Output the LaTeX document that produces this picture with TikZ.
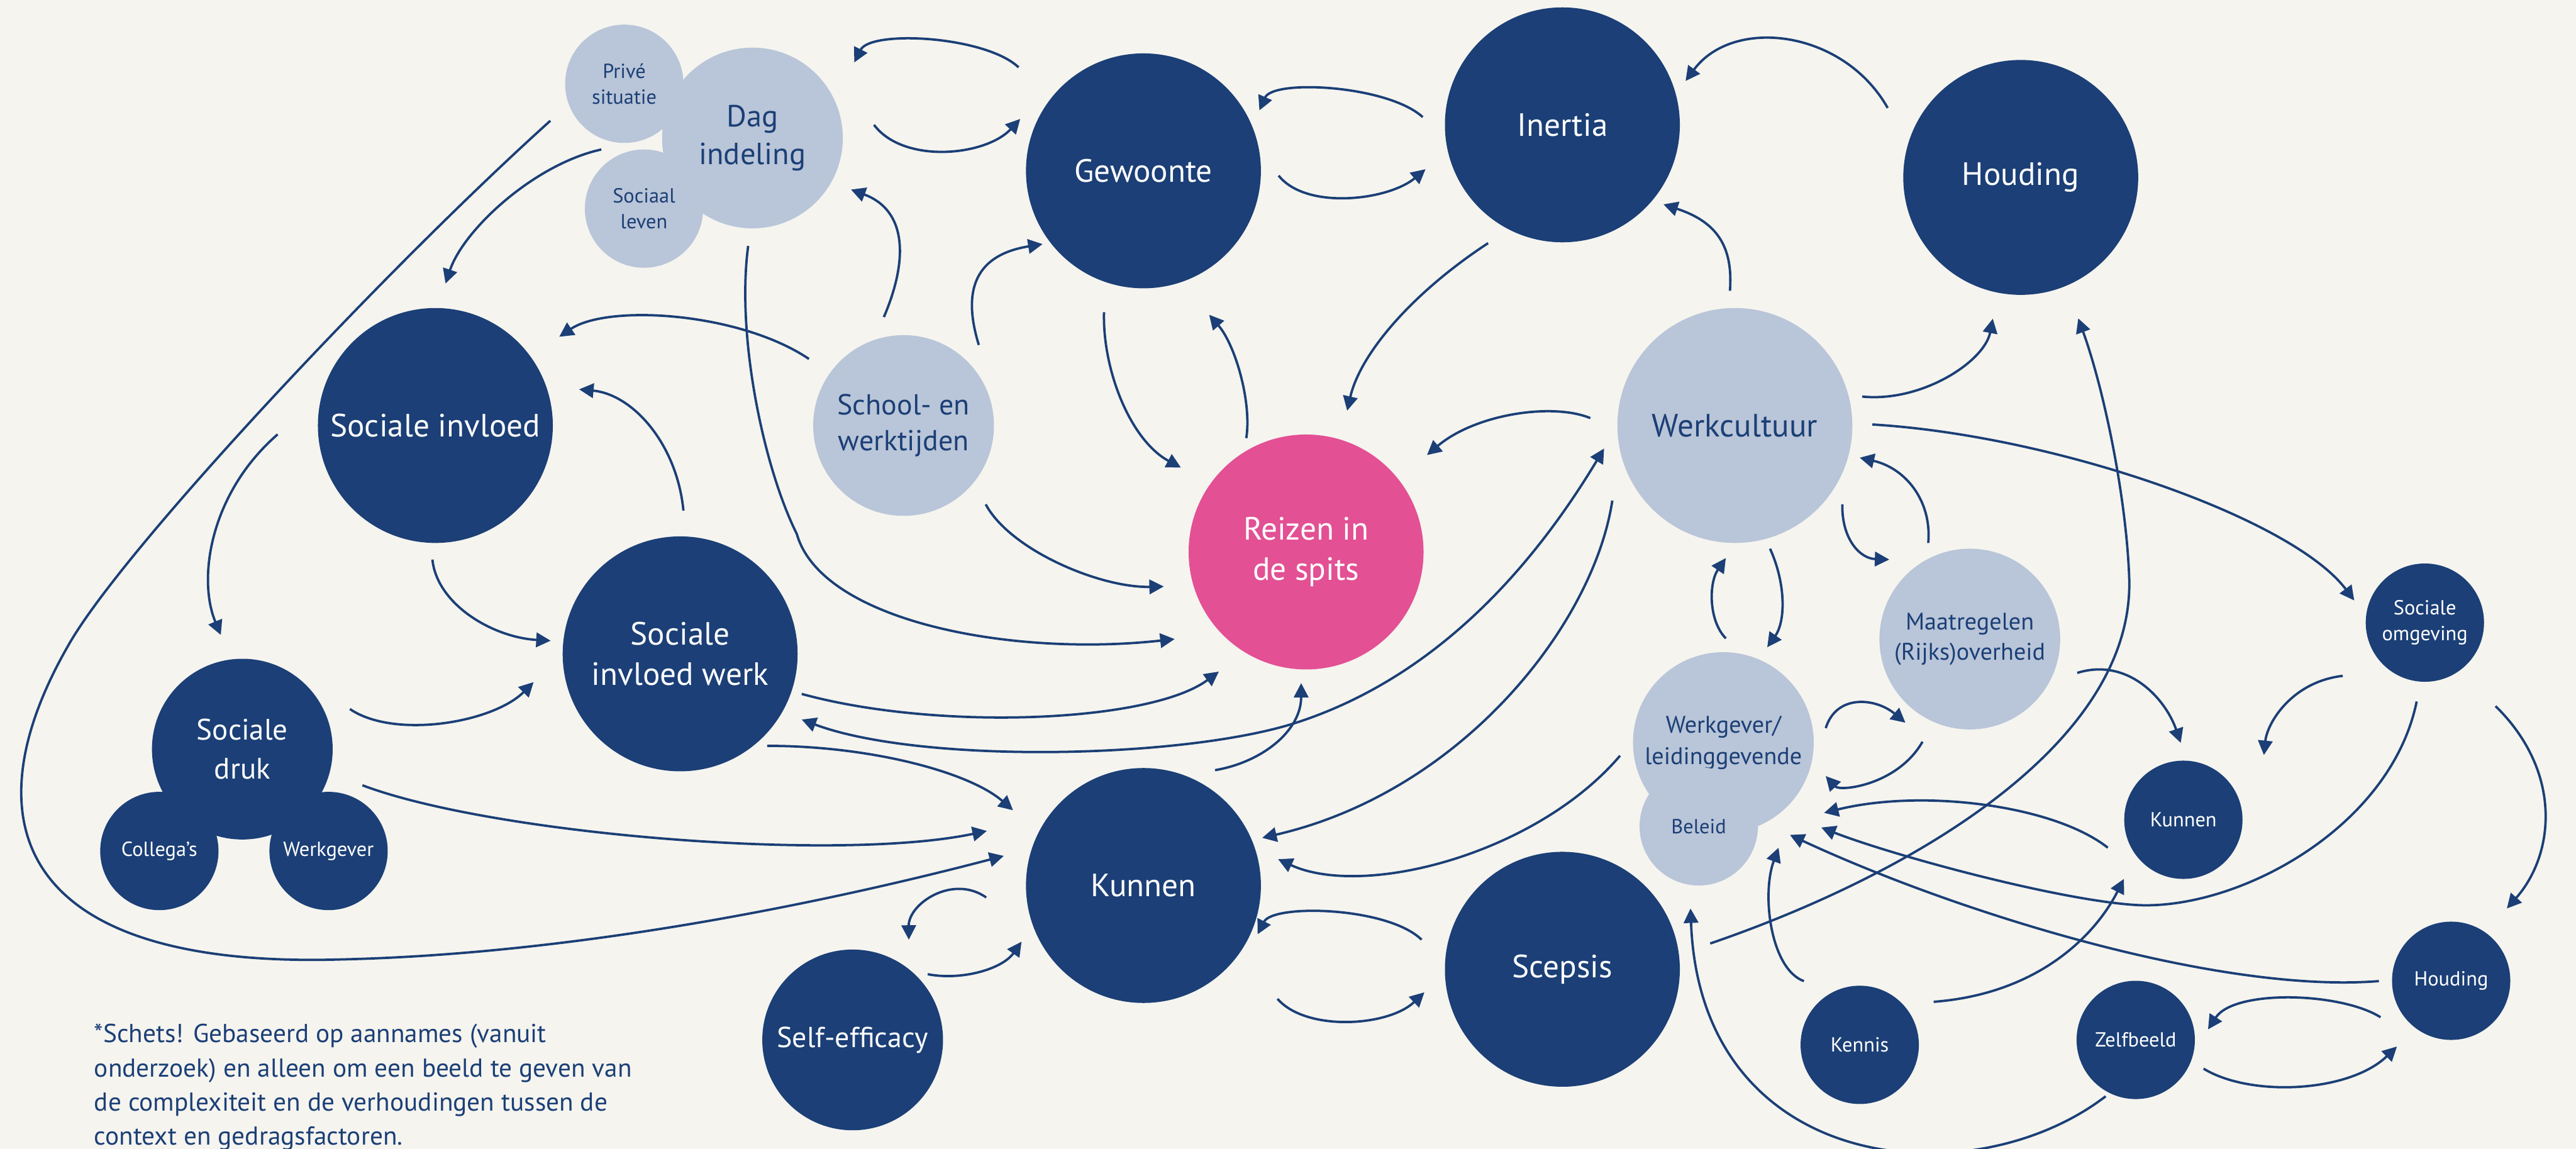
\documentclass[tikz,border=0pt]{standalone}
\usepackage{fontspec}
\setmainfont{PT Sans}
\usetikzlibrary{arrows.meta,calc}
\definecolor{dblue}{HTML}{1B3F76}
\definecolor{lblue}{HTML}{B9C5D8}
\definecolor{pinkc}{HTML}{E35094}
\definecolor{bgc}{HTML}{F5F4EF}
\begin{document}
\begin{tikzpicture}[x=0.5pt,y=-0.5pt,
  every node/.style={inner sep=0pt, align=center},
  bub/.style={circle, minimum size=#1},
  dk/.style={fill=dblue, text=white},
  lt/.style={fill=lblue, text=dblue},
  big/.style={bub=71.5pt, font=\fontsize{9.8}{12.3}\selectfont},
  med/.style 2 args={bub=55pt, font=\fontsize{#1}{#2}\selectfont},
  sml/.style={bub=36pt, font=\fontsize{6.2}{7.8}\selectfont},
  arr/.style={draw=dblue, line width=0.72pt, -{Triangle[length=4.4pt,width=4.4pt]}},
  arrtwo/.style={draw=dblue, line width=0.72pt, {Triangle[length=4.4pt,width=4.4pt]}-{Triangle[length=4.4pt,width=4.4pt]}}
]
\fill[bgc] (0,0) rectangle (1568,699.4);
\useasboundingbox (0,0) rectangle (1568,699.4);

% nodes
\node[big,dk] (gew) at (696,104) {Gewoonte};
\node[big,dk] (inertia) at (951,76) {Inertia};
\node[big,dk] (houding) at (1230,108) {Houding};
\node[big,dk] (sinv) at (265,259) {Sociale invloed};
\node[big,dk] (siw) at (414,398) {Sociale\\invloed werk};
\node[big,dk] (kunnen) at (696,539) {Kunnen};
\node[big,dk] (scepsis) at (951,590) {Scepsis};
\node[big,fill=pinkc,text=white] (reizen) at (795,336) {Reizen in\\de spits};
\node[big,lt] (werkc) at (1056,259) {Werkcultuur};
\node[med={9.3}{11.4},lt] (dag) at (458,84) {Dag\\indeling};
\node[sml,lt] (prive) at (380,51) {Privé\\situatie};
\node[sml,lt] (sociaal) at (392,127) {Sociaal\\leven};
\node[med={8.8}{11},lt] (school) at (550,259) {School- en\\werktijden};
\node[med={9}{11.8},dk] (sdruk) at (147.5,456) {Sociale\\druk};
\node[sml,dk] (coll) at (97,518) {Collega’s};
\node[sml,dk] (wgk) at (200,518) {Werkgever};
\node[med={8.8}{11},dk] (self) at (519,633) {Self-efficacy};
\node[med={7.3}{9.5},lt] (wl) at (1049,452) {Werkgever/\\leidinggevende};
\node[sml,lt] (beleid) at (1034,503) {Beleid};
\node[med={7.3}{9.3},lt] (maatr) at (1199,389) {Maatregelen\\(Rijks)overheid};
\node[sml,dk] (somg) at (1476,379) {Sociale\\omgeving};
\node[sml,dk] (kun2) at (1329,499) {Kunnen};
\node[sml,dk] (houd2) at (1492,597) {Houding};
\node[sml,dk] (zelf) at (1300,633) {Zelfbeeld};
\node[sml,dk] (kennis) at (1132,636) {Kennis};

\node[anchor=north west, align=left, text=dblue, font=\fontsize{7.9}{10.35}\selectfont] (note) at (57,623)
 {*Schets! Gebaseerd op aannames (vanuit\\onderzoek) en alleen om een beeld te geven van\\de complexiteit en de verhoudingen tussen de\\context en gedragsfactoren.};

% connectors
\draw[arr] ($(prive)+(-45,22.5)$) .. controls (235,163.5) and (74,335) .. (41.5,393)
  .. controls (-20,500) and (10,590) .. (208,584)
  .. controls (338,581) and (481,555) .. ($(kunnen)+(-85,-18)$);
\draw[arr] ($(gew)+(-76,-63)$) .. controls (600,22) and (530,18) .. ($(dag)+(62,-46)$);
\draw[arr] ($(dag)+(74,-8)$) .. controls (550,100) and (600,95) .. ($(gew)+(-75,-31.6)$);
\draw[arr] ($(school)+(-12,-66)$) .. controls (553,158) and (552,128) .. ($(dag)+(60,31.4)$);
\draw[arr] ($(school)+(45.8,-49)$) .. controls (585,175) and (595,155) .. ($(gew)+(-61.4,44.6)$);
\draw[arr] ($(sociaal)+(-26,-36)$) .. controls (325,100) and (282,140) .. ($(sinv)+(6.2,-86.4)$);
\draw[arr] ($(dag)+(-2.6,65.7)$) .. controls (448,205) and (465,285) .. (485,325)
  .. controls (500,378) and (615,400) .. ($(reizen)+(-80,53)$);
\draw[arr] ($(school)+(50,48)$) .. controls (615,335) and (670,358) .. ($(reizen)+(-86.6,21)$);
\draw[arr] ($(gew)+(-24,86)$) .. controls (671,225) and (688,268) .. ($(reizen)+(-76.2,-51.4)$);
\draw[arr] ($(reizen)+(-36.4,-69.3)$) .. controls (762,245) and (752,210) .. ($(gew)+(40,87.6)$);
\draw[arr] ($(inertia)+(-85,-4.7)$) .. controls (845,52) and (775,48) .. ($(gew)+(70.6,-36.8)$);
\draw[arr] ($(gew)+(82.3,2.9)$) .. controls (795,128) and (845,122) .. ($(inertia)+(-83.3,27)$);
\draw[arr] ($(inertia)+(-45.2,72)$) .. controls (860,178) and (828,215) .. ($(reizen)+(25,-86)$);
\draw[arr] ($(werkc)+(-3,-82)$) .. controls (1055,150) and (1045,135) .. ($(inertia)+(61.5,48.4)$);
\draw[arr] ($(werkc)+(-88,-4.5)$) .. controls (945,245) and (898,252) .. ($(reizen)+(73.6,-59)$);
\draw[arr] ($(houding)+(-81,-42.3)$) .. controls (1122,18) and (1055,10) .. ($(inertia)+(75,-26.7)$);
\draw[arr] ($(werkc)+(77.5,-17.6)$) .. controls (1170,245) and (1208,220) .. ($(houding)+(-17,86)$);
\draw[arr] ($(scepsis)+(90,-15.7)$) .. controls (1170,530) and (1300,450) .. (1296,351)
  .. controls (1294,300) and (1280,235) .. ($(houding)+(35,85.8)$);
\draw[arr] ($(werkc)+(83.7,-0.6)$) .. controls (1250,265) and (1395,315) .. ($(somg)+(-43,-13.5)$);
\draw[arr] ($(werkc)+(65.4,48)$) .. controls (1121,328) and (1132,340) .. ($(maatr)+(-49,-48.4)$);
\draw[arr] ($(maatr)+(-25.3,-58.5)$) .. controls (1176,305) and (1160,285) .. ($(werkc)+(76,19.6)$);
\draw[arr] ($(werkc)+(21.4,75)$) .. controls (1087,355) and (1087,378) .. ($(wl)+(26.7,-58)$);
\draw[arr] ($(wl)+(1.5,-63.4)$) .. controls (1040,378) and (1040,355) .. ($(werkc)+(-5.5,80.7)$);
\draw[arr] ($(werkc)+(-74.6,45.7)$) .. controls (970,380) and (890,482) .. ($(kunnen)+(72.3,-29)$);
\draw[arrtwo] ($(siw)+(74,40)$) .. controls (560,465) and (720,462) .. (788.7,440)
  .. controls (878.7,411) and (936.8,338.8) .. ($(werkc)+(-79.6,14)$);
\draw[arr] ($(sinv)+(-96,5.4)$) .. controls (128,300) and (120,352) .. ($(sdruk)+(-13.1,-69.5)$);
\draw[arr] ($(school)+(-57.6,-40.5)$) .. controls (450,190) and (370,185) .. ($(sinv)+(75.4,-54)$);
\draw[arr] ($(siw)+(2,-87.2)$) .. controls (412,270) and (385,240) .. ($(sinv)+(87.5,-22)$);
\draw[arr] ($(sinv)+(-1.8,81.6)$) .. controls (266,368) and (300,388) .. ($(siw)+(-78.8,-8)$);
\draw[arr] ($(sdruk)+(65.5,-24.4)$) .. controls (240,450) and (300,440) .. ($(siw)+(-89.2,17.2)$);
\draw[arr] ($(sdruk)+(73.1,22)$) .. controls (300,508) and (510,525) .. ($(kunnen)+(-95.3,-33.2)$);
\draw[arr] ($(siw)+(53,56)$) .. controls (530,454) and (590,470) .. ($(kunnen)+(-79.4,-45.8)$);
\draw[arr] ($(siw)+(74,24.4)$) .. controls (570,445) and (700,440) .. ($(reizen)+(-53.1,72.8)$);
\draw[arr] ($(kunnen)+(43.6,-70.2)$) .. controls (768,464) and (792,445) .. ($(reizen)+(-3,79.8)$);
\draw[arr] ($(kunnen)+(-95.7,7.3)$) .. controls (580,532) and (553,550) .. ($(self)+(34.2,-61)$);
\draw[arr] ($(self)+(45.7,-40)$) .. controls (585,597) and (610,590) .. ($(kunnen)+(-74.2,34.2)$);
\draw[arr] ($(scepsis)+(-85.7,-18)$) .. controls (845,552) and (775,550) .. ($(kunnen)+(69.5,29.7)$);
\draw[arr] ($(kunnen)+(81.6,69)$) .. controls (795,628) and (845,625) .. ($(scepsis)+(-84,14)$);
\draw[arr] ($(wl)+(-62.9,8)$) .. controls (935,520) and (830,547) .. ($(kunnen)+(82,-16)$);
\draw[arr] ($(zelf)+(-18.3,34.3)$) .. controls (1200,730) and (1035,715) .. ($(beleid)+(-5,50)$);
\draw[arr] ($(kennis)+(-34,-38.8)$) .. controls (1078,590) and (1072,545) .. ($(beleid)+(48.6,13)$);
\draw[arr] ($(kennis)+(45,-26.2)$) .. controls (1240,605) and (1275,570) .. ($(kun2)+(-36.2,36)$);
\draw[arr] ($(kun2)+(-46,17)$) .. controls (1250,490) and (1170,480) .. ($(wl)+(61.3,42.8)$);
\draw[arr] ($(somg)+(-5,48)$) .. controls (1455,505) and (1360,555) .. (1299,550.8)
  .. controls (1250,547.4) and (1150,520) .. ($(wl)+(59.6,51.7)$);
\draw[arr] ($(houd2)+(-44,0.2)$) .. controls (1350,605) and (1190,555) .. ($(wl)+(40.5,56.2)$);
\draw[arr] ($(wl)+(62.3,-8.8)$) .. controls (1118,422) and (1142,425) .. ($(maatr)+(-39.2,50.9)$);
\draw[arr] ($(maatr)+(-28.8,62.5)$) .. controls (1155,478) and (1120,482) .. ($(wl)+(62.3,20.4)$);
\draw[arr] ($(maatr)+(65.4,20.6)$) .. controls (1295,400) and (1318,425) .. ($(kun2)+(-1.6,-46.8)$);
\draw[arr] ($(somg)+(-50,32.4)$) .. controls (1395,415) and (1380,440) .. ($(kun2)+(49,-39.4)$);
\draw[arr] ($(somg)+(43,50.8)$) .. controls (1560,470) and (1555,520) .. ($(houd2)+(33.9,-44)$);
\draw[arr] ($(houd2)+(-43,22.2)$) .. controls (1425,604) and (1360,602) .. ($(zelf)+(44,-6.4)$);
\draw[arr] ($(zelf)+(41.3,17.5)$) .. controls (1370,668) and (1430,665) .. ($(houd2)+(-33,40)$);
\end{tikzpicture}
\end{document}
